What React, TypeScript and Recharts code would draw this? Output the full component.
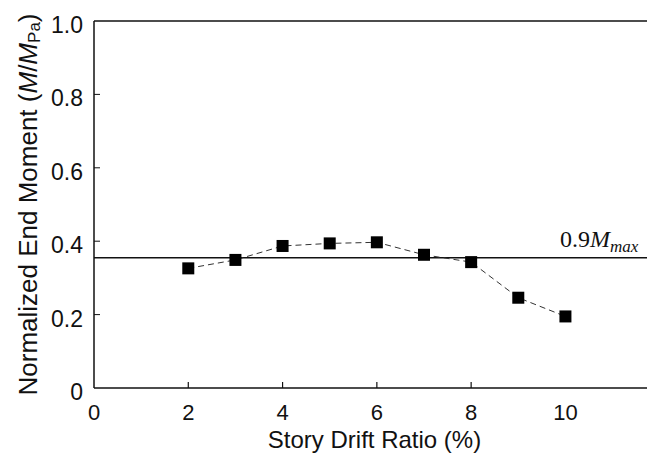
import { LineChart, Line, XAxis, YAxis, ReferenceLine } from 'recharts';

const driftRatio = [2, 3, 4, 5, 6, 7, 8, 9, 10];
const endMoment = [0.326, 0.349, 0.387, 0.394, 0.397, 0.363, 0.343, 0.246, 0.195];
const xTicks = [0, 2, 4, 6, 8, 10];
const yTicks = [0, 0.2, 0.4, 0.6, 0.8, 1.0];
const limitValue = 0.355;

const data = driftRatio.map((d, i) => ({ drift: d, moment: endMoment[i] }));

const ink = '#111';
const sans = '"Liberation Sans", Arial, sans-serif';
const serif = '"Liberation Serif", "Times New Roman", serif';

function XTick(props: any) {
  const { x, y, payload } = props;
  const v = payload.value;
  return (
    <g>
      {v > 0 && v < 10 && <line x1={x} x2={x} y1={y} y2={y - 6} stroke={ink} strokeWidth={1.2} />}
      <text x={x} y={y + 32} textAnchor="middle" fontSize={22} fontFamily={sans} fill={ink}>
        {v}
      </text>
    </g>
  );
}

function YTick(props: any) {
  const { x, y, payload } = props;
  const v = payload.value;
  return (
    <g>
      {v > 0 && v < 1 && <line x1={x} x2={x + 6} y1={y} y2={y} stroke={ink} strokeWidth={1} />}
      <text x={x - 11} y={y + 12} textAnchor="end" fontSize={23} fontFamily={sans} fill={ink}>
        {v === 0 ? '0' : v.toFixed(1)}
      </text>
    </g>
  );
}

function Square(props: any) {
  const { cx, cy, index } = props;
  return <rect key={`sq-${index}`} x={cx - 6} y={cy - 6} width={12} height={12} fill="#000" />;
}

export default function App() {
  return (
    <LineChart width={647} height={455} data={data} margin={{ top: 13, right: 0, bottom: 0, left: 0 }}>
      <XAxis
        dataKey="drift"
        type="number"
        domain={[0, 11.9]}
        allowDataOverflow
        ticks={xTicks}
        tickSize={0}
        tickMargin={0}
        tickLine={false}
        tick={<XTick />}
        height={75}
        axisLine={{ stroke: ink, strokeWidth: 1.5 }}
        label={{
          content: (p: any) => {
            const vb = p.viewBox;
            return (
              <text x={vb.x + vb.width / 2} y={vb.y + 60} textAnchor="middle" fontSize={24} fontFamily={sans} fill={ink}>
                Story Drift Ratio (%)
              </text>
            );
          },
        }}
      />
      <YAxis
        type="number"
        domain={[0, 1]}
        ticks={yTicks}
        width={86}
        tickSize={0}
        tickMargin={0}
        tickLine={false}
        tick={<YTick />}
        axisLine={{ stroke: ink, strokeWidth: 1.5 }}
        label={{
          content: (p: any) => {
            const vb = p.viewBox;
            const cx = 20;
            const cy = vb.y + vb.height / 2;
            return (
              <text
                x={cx}
                y={cy}
                transform={`rotate(-90, ${cx}, ${cy})`}
                textAnchor="middle"
                dominantBaseline="central"
                fontSize={26}
                fontFamily={sans}
                fill={ink}
              >
                Normalized End Moment (<tspan fontStyle="italic">M</tspan>/<tspan fontStyle="italic">M</tspan>
                <tspan fontSize={17} dy={6}>Pa</tspan>
                <tspan dy={-6}>)</tspan>
              </text>
            );
          },
        }}
      />
      <ReferenceLine y={1} stroke={ink} strokeWidth={1.5} />
      <ReferenceLine
        y={limitValue}
        stroke={ink}
        strokeWidth={1.5}
        label={{
          content: (p: any) => {
            const vb = p.viewBox;
            return (
              <text x={vb.x + vb.width - 95} y={vb.y - 11} fontSize={24} fontFamily={serif} fill={ink}>
                0.9<tspan fontStyle="italic">M</tspan>
                <tspan fontStyle="italic" fontSize={17} dy={5}>max</tspan>
              </text>
            );
          },
        }}
      />
      <Line
        dataKey="moment"
        stroke="#333"
        strokeWidth={1}
        strokeDasharray="6 4"
        dot={Square}
        activeDot={false}
        isAnimationActive={false}
      />
    </LineChart>
  );
}
